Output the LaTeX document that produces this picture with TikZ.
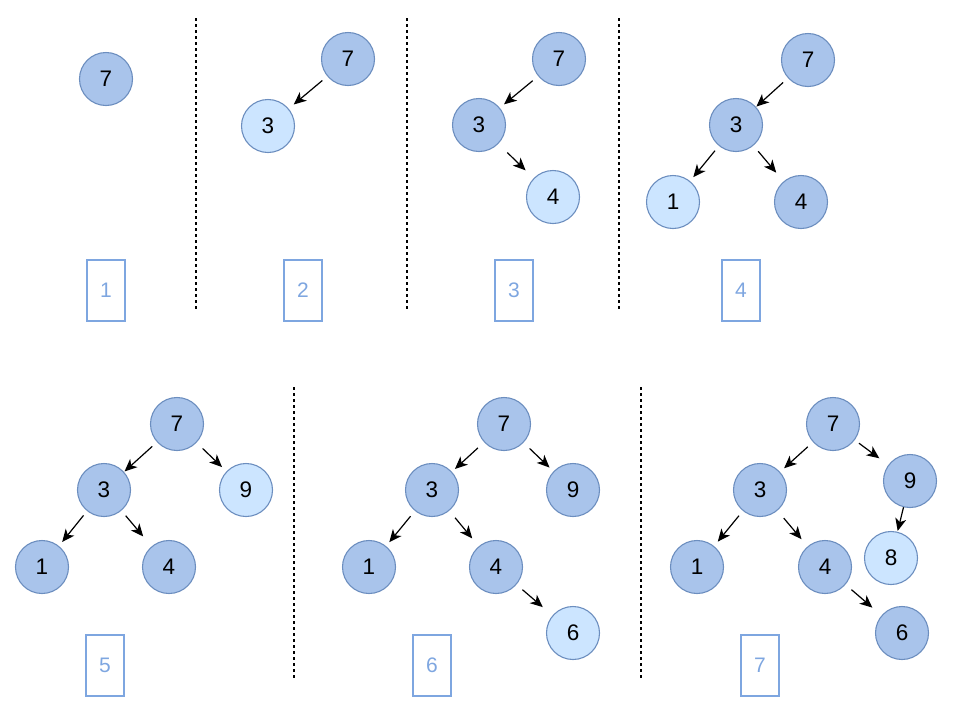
\documentclass[tikz,border=0pt]{standalone}
\usepackage{fontspec}
\setmainfont{Liberation Sans}
\usetikzlibrary{arrows.meta}
\definecolor{darkfill}{HTML}{A9C4EB}
\definecolor{lightfill}{HTML}{CCE5FF}
\definecolor{nodestroke}{HTML}{6C8EBF}
\definecolor{boxblue}{HTML}{7EA6E0}
\begin{document}
\begin{tikzpicture}[x=1pt,y=-1pt,
  dnode/.style={circle, draw=nodestroke, fill=darkfill, line width=1.1pt, minimum size=53pt, inner sep=0pt, outer sep=0pt, font=\fontsize{22.5}{26}\selectfont},
  lnode/.style={dnode, fill=lightfill},
  stepbox/.style={draw=boxblue, line width=2pt, minimum width=38pt, minimum height=61pt, inner sep=0pt, outer sep=0pt, text=boxblue, font=\fontsize{21}{25}\selectfont},
  arr/.style={-{Stealth[length=12.5pt,width=11pt,inset=3.5pt]}, line width=1.2pt},
  sep/.style={dash pattern=on 3pt off 3pt, line width=1.3pt}]
\useasboundingbox (0,0) rectangle (953,713);

% separators
\draw[sep] (196,18) -- (196,311);
\draw[sep] (407,18) -- (407,311);
\draw[sep] (619,18) -- (619,311);
\draw[sep] (294,387) -- (294,679);
\draw[sep] (641,387) -- (641,679);

% panel 1
\node[dnode] (p1a) at (106,79) {7};
\node[stepbox] (b1) at (106,290) {1};

% panel 2
\node[dnode] (p2a) at (348,59) {7};
\node[lnode] (p2b) at (268,126) {3};
\node[stepbox] (b2) at (303,290) {2};
\draw[arr, shorten <=7pt, shorten >=7pt] (p2a) -- (p2b);

% panel 3
\node[dnode] (p3a) at (559,59) {7};
\node[dnode] (p3b) at (479,125) {3};
\node[lnode] (p3c) at (553,197) {4};
\node[stepbox] (b3) at (514,290) {3};
\draw[arr, shorten <=7.6pt, shorten >=6pt] (p3a) -- (p3b);
\draw[arr, shorten <=13pt, shorten >=11.7pt] (p3b) -- (p3c);

% panel 4
\node[dnode] (p4a) at (808,60) {7};
\node[dnode] (p4b) at (736,125) {3};
\node[lnode] (p4c) at (673,202) {1};
\node[dnode] (p4d) at (801,202) {4};
\node[stepbox] (b4) at (741,290) {4};
\draw[arr, shorten <=7pt, shorten >=1pt] (p4a) -- (p4b);
\draw[arr, shorten <=6.7pt, shorten >=5.5pt] (p4b) -- (p4c);
\draw[arr, shorten <=7.9pt, shorten >=11.9pt] (p4b) -- (p4d);

% panel 5
\node[dnode] (p5a) at (177,424) {7};
\node[dnode] (p5b) at (104,490) {3};
\node[lnode] (p5c) at (246,490) {9};
\node[dnode] (p5d) at (42,567) {1};
\node[dnode] (p5e) at (169,567) {4};
\node[stepbox] (b5) at (105,665) {5};
\draw[arr, shorten <=6.9pt, shorten >=1.2pt] (p5a) -- (p5b);
\draw[arr, shorten <=8.9pt, shorten >=6.7pt] (p5a) -- (p5c);
\draw[arr, shorten <=6.1pt, shorten >=5.7pt] (p5b) -- (p5d);
\draw[arr, shorten <=7.1pt, shorten >=13.5pt] (p5b) -- (p5e);

% panel 6
\node[dnode] (p6a) at (504,424) {7};
\node[dnode] (p6b) at (432,490) {3};
\node[dnode] (p6c) at (573,490) {9};
\node[dnode] (p6d) at (369,567) {1};
\node[dnode] (p6e) at (496,567) {4};
\node[lnode] (p6f) at (573,633) {6};
\node[stepbox] (b6) at (432,665) {6};
\draw[arr, shorten <=8.9pt, shorten >=4.6pt] (p6a) -- (p6b);
\draw[arr, shorten <=8.9pt, shorten >=6pt] (p6a) -- (p6c);
\draw[arr, shorten <=7.4pt, shorten >=5.5pt] (p6b) -- (p6d);
\draw[arr, shorten <=9.6pt, shorten >=10.7pt] (p6b) -- (p6e);
\draw[arr, shorten <=8.3pt, shorten >=13.3pt] (p6e) -- (p6f);

% panel 7
\node[dnode] (p7a) at (833,424) {7};
\node[dnode] (p7b) at (760,490) {3};
\node[dnode] (p7c) at (910,481) {9};
\node[lnode] (p7g) at (891,558) {8};
\node[dnode] (p7d) at (697,567) {1};
\node[dnode] (p7e) at (825,567) {4};
\node[dnode] (p7f) at (902,633) {6};
\node[stepbox] (b7) at (760,665) {7};
\draw[arr, shorten <=7.5pt, shorten >=6pt] (p7a) -- (p7b);
\draw[arr, shorten <=5.8pt, shorten >=11.7pt] (p7a) -- (p7c);
\draw[arr, shorten <=6.7pt, shorten >=6.3pt] (p7b) -- (p7d);
\draw[arr, shorten <=10.3pt, shorten >=9.9pt] (p7b) -- (p7e);
\draw[arr, shorten <=0.5pt, shorten >=1.4pt] (p7c) -- (p7g);
\draw[arr, shorten <=8.3pt, shorten >=12.5pt] (p7e) -- (p7f);
\end{tikzpicture}
\end{document}
